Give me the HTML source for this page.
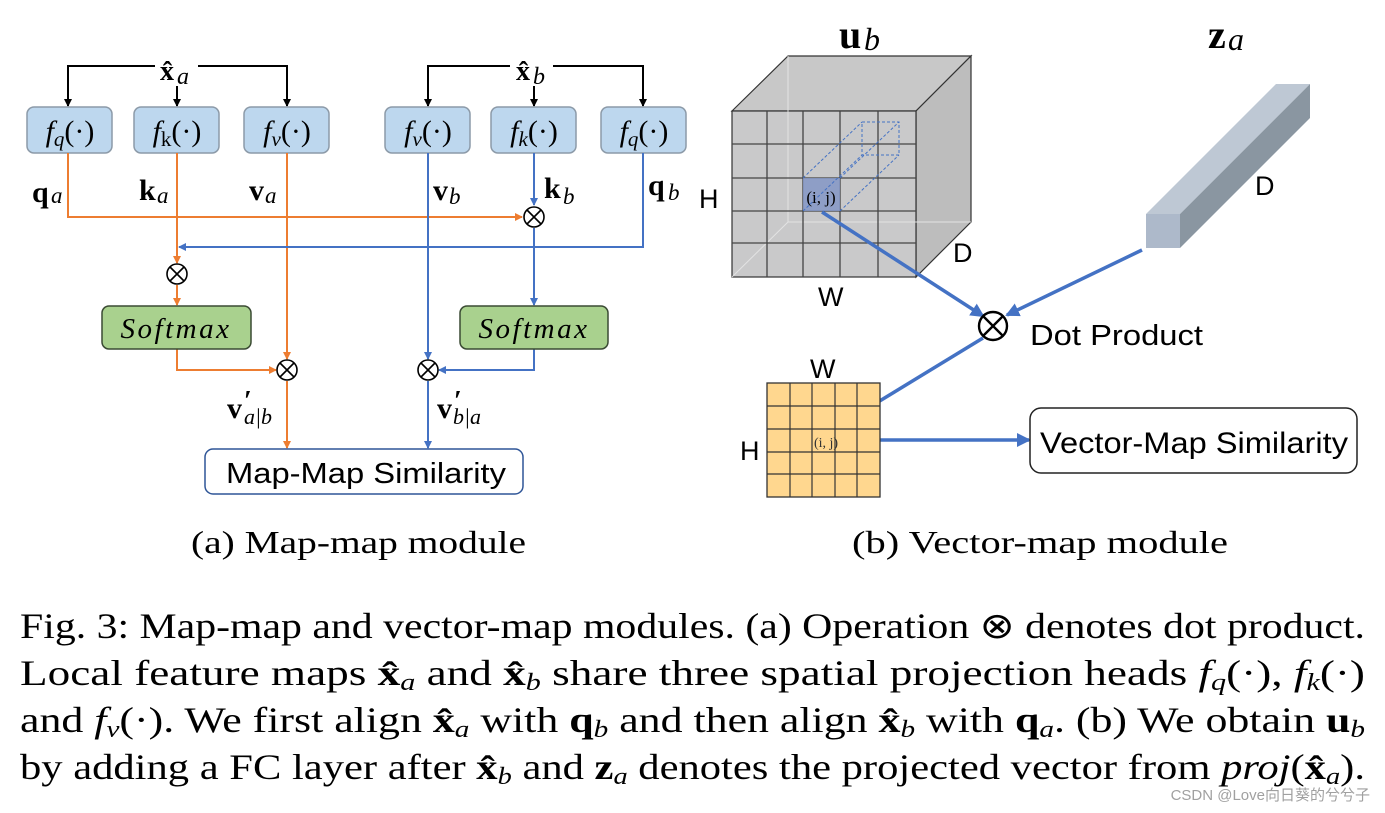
<!DOCTYPE html>
<html><head><meta charset="utf-8"><style>
html,body{margin:0;padding:0;background:#fff;width:1385px;height:813px;overflow:hidden}
svg{display:block}
.s{font-family:"Liberation Serif",serif}
.a{font-family:"Liberation Sans","DejaVu Sans",sans-serif}
</style></head><body>
<svg width="1385" height="813" viewBox="0 0 1385 813" xmlns="http://www.w3.org/2000/svg">
<defs>
<marker id="ab" markerWidth="8" markerHeight="8" refX="7" refY="4" orient="auto" markerUnits="userSpaceOnUse"><path d="M0,0 L8,4 L0,8 z" fill="#000"/></marker>
<marker id="ao" markerWidth="8" markerHeight="8" refX="7" refY="4" orient="auto" markerUnits="userSpaceOnUse"><path d="M0,0 L8,4 L0,8 z" fill="#ED7D31"/></marker>
<marker id="al" markerWidth="8" markerHeight="8" refX="7" refY="4" orient="auto" markerUnits="userSpaceOnUse"><path d="M0,0 L8,4 L0,8 z" fill="#4472C4"/></marker>
<marker id="aL" markerWidth="14" markerHeight="14" refX="12" refY="7" orient="auto" markerUnits="userSpaceOnUse"><path d="M0,0 L14,7 L0,14 z" fill="#4472C4"/></marker>
</defs>

<g stroke="#000" stroke-width="2" fill="none">
<polyline points="155,66 68,66 68,106" marker-end="url(#ab)"/>
<polyline points="198,66 287,66 287,106" marker-end="url(#ab)"/>
<line x1="177" y1="86" x2="177" y2="106" marker-end="url(#ab)"/>
<polyline points="510,66 428,66 428,106" marker-end="url(#ab)"/>
<polyline points="553,66 643,66 643,106" marker-end="url(#ab)"/>
<line x1="534" y1="86" x2="534" y2="106" marker-end="url(#ab)"/>
</g>
<text x="160" y="80" class="s" font-size="28" font-weight="bold">x̂</text><text x="177" y="84" class="s" font-size="24" font-style="italic">a</text>
<text x="516" y="80" class="s" font-size="28" font-weight="bold">x̂</text><text x="533" y="84" class="s" font-size="24" font-style="italic">b</text>

<g fill="#BDD7EE" stroke="#8C9AA8" stroke-width="1.5">
<rect x="27" y="107" width="85" height="46" rx="7"/>
<rect x="134" y="107" width="85" height="46" rx="7"/>
<rect x="244" y="107" width="85" height="46" rx="7"/>
<rect x="385" y="107" width="85" height="46" rx="7"/>
<rect x="491" y="107" width="85" height="46" rx="7"/>
<rect x="601" y="107" width="85" height="46" rx="7"/>
</g>
<g class="s" font-size="30" text-anchor="middle">
<text x="70" y="141"><tspan font-style="italic">f</tspan><tspan font-size="21" font-style="italic" dy="5">q</tspan><tspan dy="-5">(·)</tspan></text>
<text x="177" y="141"><tspan font-style="italic">f</tspan><tspan font-size="21" dy="5">k</tspan><tspan dy="-5">(·)</tspan></text>
<text x="287" y="141"><tspan font-style="italic">f</tspan><tspan font-size="21" font-style="italic" dy="5">v</tspan><tspan dy="-5">(·)</tspan></text>
<text x="428" y="141"><tspan font-style="italic">f</tspan><tspan font-size="21" font-style="italic" dy="5">v</tspan><tspan dy="-5">(·)</tspan></text>
<text x="534" y="141"><tspan font-style="italic">f</tspan><tspan font-size="21" font-style="italic" dy="5">k</tspan><tspan dy="-5">(·)</tspan></text>
<text x="644" y="141"><tspan font-style="italic">f</tspan><tspan font-size="21" font-style="italic" dy="5">q</tspan><tspan dy="-5">(·)</tspan></text>
</g>

<g stroke="#ED7D31" stroke-width="2" fill="none">
<polyline points="68,153 68,217 522,217" marker-end="url(#ao)"/>
<line x1="177" y1="153" x2="177" y2="263" marker-end="url(#ao)"/>
<line x1="177" y1="285" x2="177" y2="305" marker-end="url(#ao)"/>
<line x1="287" y1="153" x2="287" y2="359" marker-end="url(#ao)"/>
<polyline points="177,349 177,370 276,370" marker-end="url(#ao)"/>
<line x1="287" y1="381" x2="287" y2="448" marker-end="url(#ao)"/>
</g>
<g stroke="#4472C4" stroke-width="2" fill="none">
<polyline points="643,153 643,247 179,247" marker-end="url(#al)"/>
<line x1="534" y1="153" x2="534" y2="205" marker-end="url(#al)"/>
<line x1="534" y1="228" x2="534" y2="305" marker-end="url(#al)"/>
<line x1="428" y1="153" x2="428" y2="359" marker-end="url(#al)"/>
<polyline points="534,349 534,370 439,370" marker-end="url(#al)"/>
<line x1="428" y1="381" x2="428" y2="448" marker-end="url(#al)"/>
</g>
<g stroke="#000" stroke-width="1.6" fill="#fff">
<g transform="translate(534,217)"><circle r="10"/><path d="M-7,-7L7,7M7,-7L-7,7"/></g>
<g transform="translate(177,274)"><circle r="10"/><path d="M-7,-7L7,7M7,-7L-7,7"/></g>
<g transform="translate(287,370)"><circle r="10"/><path d="M-7,-7L7,7M7,-7L-7,7"/></g>
<g transform="translate(428,370)"><circle r="10"/><path d="M-7,-7L7,7M7,-7L-7,7"/></g>
</g>

<g class="s" font-size="30">
<text x="32" y="202" font-weight="bold">q</text><text x="51" y="203" font-size="23" font-style="italic">a</text>
<text x="139" y="200" font-weight="bold">k</text><text x="157" y="203" font-size="23" font-style="italic">a</text>
<text x="249" y="200" font-weight="bold">v</text><text x="265" y="203" font-size="23" font-style="italic">a</text>
<text x="433" y="200" font-weight="bold">v</text><text x="449" y="204" font-size="23" font-style="italic">b</text>
<text x="544" y="198" font-weight="bold">k</text><text x="563" y="204" font-size="23" font-style="italic">b</text>
<text x="648" y="195" font-weight="bold">q</text><text x="668" y="200" font-size="23" font-style="italic">b</text>
<text x="227" y="418" font-weight="bold">v</text><text x="244" y="410" font-size="28" font-weight="bold">′</text><text x="244" y="424" font-size="22" font-style="italic">a|b</text>
<text x="437" y="418" font-weight="bold">v</text><text x="454" y="410" font-size="28" font-weight="bold">′</text><text x="453" y="424" font-size="22" font-style="italic">b|a</text>
</g>

<g fill="#A9D18E" stroke="#3A4A33" stroke-width="1.5">
<rect x="102" y="306" width="149" height="43" rx="7"/>
<rect x="460" y="306" width="148" height="43" rx="7"/>
</g>
<g class="s" font-size="29" font-style="italic" text-anchor="middle" letter-spacing="2.5">
<text x="176" y="338">Softmax</text>
<text x="534" y="338">Softmax</text>
</g>
<rect x="205" y="449" width="318" height="45" rx="8" fill="#fff" stroke="#2F5597" stroke-width="1.5"/>
<text x="226" y="483" class="a" font-size="29" textLength="280" lengthAdjust="spacingAndGlyphs">Map-Map Similarity</text>

<g stroke="#333" stroke-width="1.2">
<polygon points="732,111 788,56 971,56 916,111" fill="#C8C8C8"/>
<polygon points="916,111 971,56 971,222 916,277" fill="#BDBDBD"/>
<rect x="732" y="111" width="184" height="166" fill="#C9C9CA"/>
</g>
<g stroke="#E6E6E6" stroke-width="1" fill="none" opacity="0.9">
<polyline points="788,56 788,222 971,222"/>
<line x1="732" y1="277" x2="788" y2="222"/>
</g>
<g stroke="#444" stroke-width="1.3">
<line x1="767" y1="111" x2="767" y2="277"/><line x1="803" y1="111" x2="803" y2="277"/>
<line x1="840" y1="111" x2="840" y2="277"/><line x1="878" y1="111" x2="878" y2="277"/>
<line x1="732" y1="144" x2="916" y2="144"/><line x1="732" y1="178" x2="916" y2="178"/>
<line x1="732" y1="211" x2="916" y2="211"/><line x1="732" y1="243" x2="916" y2="243"/>
</g>
<rect x="803" y="178" width="37" height="33" fill="#8497C6" opacity="0.85"/>
<g stroke="#4472C4" stroke-width="1" stroke-dasharray="3,2" fill="none">
<rect x="862" y="122" width="37" height="33"/>
<line x1="803" y1="178" x2="862" y2="122"/><line x1="840" y1="178" x2="899" y2="122"/>
<line x1="840" y1="211" x2="899" y2="155"/><line x1="803" y1="211" x2="862" y2="155"/>
</g>
<text x="821" y="203" class="s" font-size="17" text-anchor="middle">(i, j)</text>
<text x="839" y="48" class="s" font-size="40" font-weight="bold">u</text><text x="864" y="50" class="s" font-size="32" font-style="italic">b</text>
<text x="1208" y="48" class="s" font-size="40" font-weight="bold">z</text><text x="1228" y="50" class="s" font-size="32" font-style="italic">a</text>
<g class="a" font-size="27">
<text x="699" y="208">H</text><text x="953" y="262">D</text><text x="818" y="306">W</text>
<text x="1255" y="195">D</text><text x="810" y="378">W</text><text x="740" y="460">H</text>
<text x="1030" y="345" font-size="29" textLength="173" lengthAdjust="spacingAndGlyphs">Dot Product</text>
</g>

<polygon points="1146,214 1276,84 1310,84 1180,214" fill="#BEC8D4"/>
<polygon points="1180,214 1310,84 1310,118 1180,248" fill="#8A96A1"/>
<rect x="1146" y="214" width="34" height="34" fill="#ADB9CA"/>

<g stroke="#4472C4" stroke-width="3.5" fill="none">
<line x1="822" y1="212" x2="983" y2="316" marker-end="url(#aL)"/>
<line x1="1142" y1="250" x2="1007" y2="315" marker-end="url(#aL)"/>
<line x1="983" y1="338" x2="837" y2="427" marker-end="url(#aL)"/>
<line x1="880" y1="440" x2="1029" y2="440" marker-end="url(#aL)"/>
</g>
<g transform="translate(993,326)" stroke="#000" stroke-width="2.4" fill="#fff"><circle r="14"/><path d="M-10,-10L10,10M10,-10L-10,10"/></g>

<rect x="767" y="383" width="113" height="114" fill="#FFD78F" stroke="#333" stroke-width="1.3"/>
<g stroke="#333" stroke-width="1.2">
<line x1="790" y1="383" x2="790" y2="497"/><line x1="812" y1="383" x2="812" y2="497"/>
<line x1="835" y1="383" x2="835" y2="497"/><line x1="857" y1="383" x2="857" y2="497"/>
<line x1="767" y1="406" x2="880" y2="406"/><line x1="767" y1="429" x2="880" y2="429"/>
<line x1="767" y1="452" x2="880" y2="452"/><line x1="767" y1="474" x2="880" y2="474"/>
</g>
<text x="826" y="447" class="s" font-size="14" text-anchor="middle" fill="#333">(i, j)</text>

<rect x="1030" y="408" width="327" height="65" rx="11" fill="#fff" stroke="#222" stroke-width="1.5"/>
<text x="1040" y="453" class="a" font-size="30" textLength="308" lengthAdjust="spacingAndGlyphs">Vector-Map Similarity</text>

<g class="s" font-size="32">
<text x="191" y="553" textLength="335" lengthAdjust="spacingAndGlyphs">(a) Map-map module</text>
<text x="852" y="553" textLength="376" lengthAdjust="spacingAndGlyphs">(b) Vector-map module</text>
</g>

<g class="s" font-size="36">
<text x="20" y="638" textLength="1345" lengthAdjust="spacingAndGlyphs">Fig. 3: Map-map and vector-map modules. (a) Operation ⊗ denotes dot product.</text>
<text x="20" y="685" textLength="1345" lengthAdjust="spacingAndGlyphs">Local feature maps <tspan font-weight="bold">x̂</tspan><tspan font-style="italic" font-size="24" dy="5">a</tspan><tspan dy="-5"> and </tspan><tspan font-weight="bold">x̂</tspan><tspan font-style="italic" font-size="24" dy="5">b</tspan><tspan dy="-5"> share three spatial projection heads </tspan><tspan font-style="italic">f</tspan><tspan font-style="italic" font-size="24" dy="5">q</tspan><tspan dy="-5">(·), </tspan><tspan font-style="italic">f</tspan><tspan font-style="italic" font-size="24" dy="5">k</tspan><tspan dy="-5">(·)</tspan></text>
<text x="20" y="732" textLength="1345" lengthAdjust="spacingAndGlyphs">and <tspan font-style="italic">f</tspan><tspan font-style="italic" font-size="24" dy="5">v</tspan><tspan dy="-5">(·). We first align </tspan><tspan font-weight="bold">x̂</tspan><tspan font-style="italic" font-size="24" dy="5">a</tspan><tspan dy="-5"> with </tspan><tspan font-weight="bold">q</tspan><tspan font-style="italic" font-size="24" dy="5">b</tspan><tspan dy="-5"> and then align </tspan><tspan font-weight="bold">x̂</tspan><tspan font-style="italic" font-size="24" dy="5">b</tspan><tspan dy="-5"> with </tspan><tspan font-weight="bold">q</tspan><tspan font-style="italic" font-size="24" dy="5">a</tspan><tspan dy="-5">. (b) We obtain </tspan><tspan font-weight="bold">u</tspan><tspan font-style="italic" font-size="24" dy="5">b</tspan></text>
<text x="20" y="779" textLength="1345" lengthAdjust="spacingAndGlyphs">by adding a FC layer after <tspan font-weight="bold">x̂</tspan><tspan font-style="italic" font-size="24" dy="5">b</tspan><tspan dy="-5"> and </tspan><tspan font-weight="bold">z</tspan><tspan font-style="italic" font-size="24" dy="5">a</tspan><tspan dy="-5"> denotes the projected vector from </tspan><tspan font-style="italic">proj</tspan><tspan>(</tspan><tspan font-weight="bold">x̂</tspan><tspan font-style="italic" font-size="24" dy="5">a</tspan><tspan dy="-5">).</tspan></text>
</g>
<text x="1370" y="800" font-family="'Liberation Sans','Noto Sans CJK SC',sans-serif" font-size="15" fill="#A0A0A0" text-anchor="end">CSDN @Love向日葵的兮兮子</text>
</svg>
</body></html>
